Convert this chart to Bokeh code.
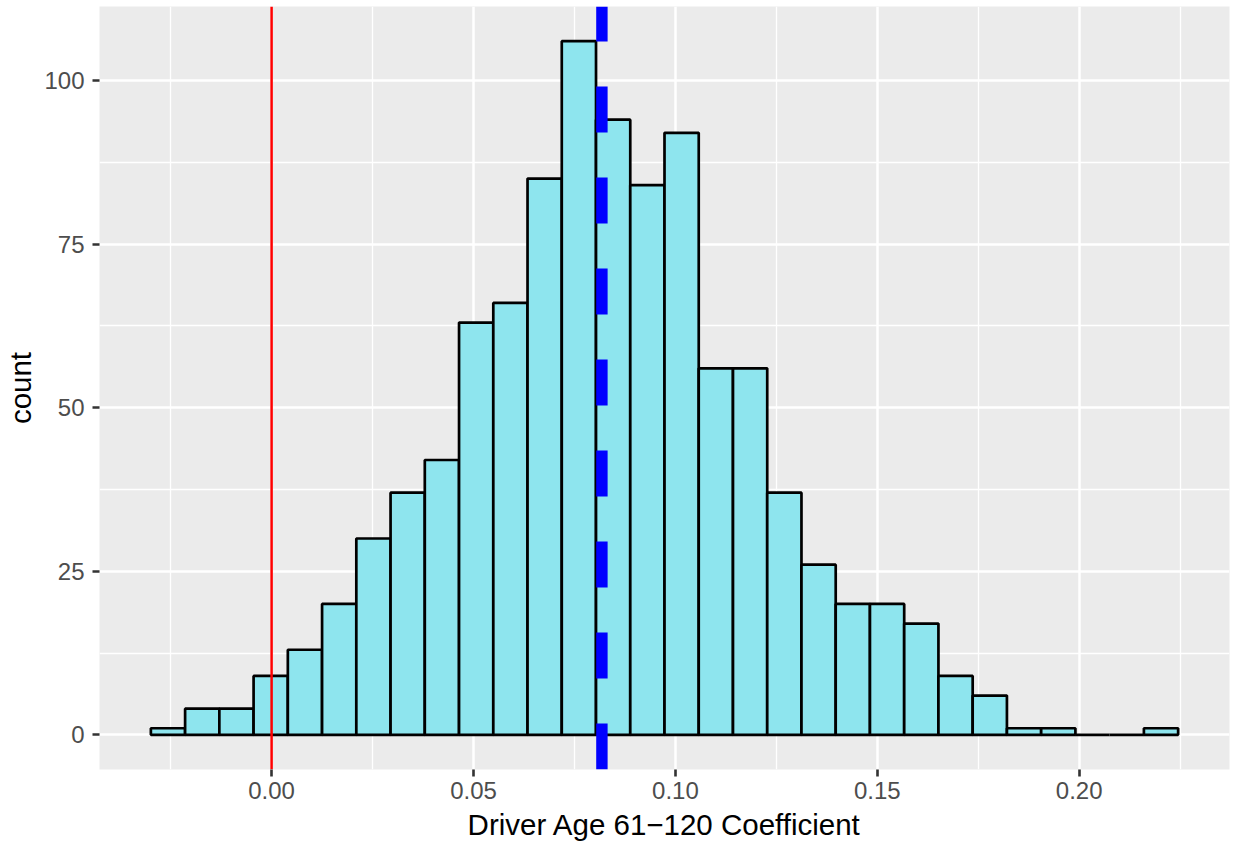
from bokeh.plotting import figure
from bokeh.models import Range1d, FixedTicker, ColumnDataSource
from bokeh.embed import file_html
from bokeh.resources import INLINE

# Histogram of bootstrapped coefficients (30 equal-width bins)
bin_start = -0.0299
bin_width = 0.00848
counts = [1, 4, 4, 9, 13, 20, 30, 37, 42, 63, 66, 85, 106, 94, 84,
          92, 56, 56, 37, 26, 20, 20, 17, 9, 6, 1, 1, 0, 0, 1]

# Reference lines
zero_ref = 0.0
mean_coef = 0.0818

# Axis ticks
x_ticks = [0.00, 0.05, 0.10, 0.15, 0.20]
x_tick_labels = ["0.00", "0.05", "0.10", "0.15", "0.20"]
y_ticks = [0, 25, 50, 75, 100]
y_tick_labels = ["0", "25", "50", "75", "100"]

x_title = "Driver Age 61\u2212120 Coefficient"
y_title = "count"

lefts = [bin_start + i * bin_width for i in range(len(counts))]
rights = [l + bin_width for l in lefts]
src = ColumnDataSource(dict(left=lefts, right=rights, top=counts,
                            bottom=[0] * len(counts)))

# ggplot-like 5% padding on both axes
span_x = rights[-1] - lefts[0]
x_lo, x_hi = lefts[0] - 0.05 * span_x, rights[-1] + 0.05 * span_x
y_max = max(counts)
y_lo, y_hi = -0.05 * y_max, y_max * 1.05

p = figure(width=1233, height=843, output_backend="svg", toolbar_location=None,
           x_range=Range1d(x_lo, x_hi), y_range=Range1d(y_lo, y_hi),
           min_border_left=99, min_border_right=4, min_border_top=6,
           min_border_bottom=72)

p.background_fill_color = "#EBEBEB"
p.border_fill_color = "white"
p.outline_line_color = None

x_minor = [t - 0.025 for t in x_ticks] + [x_ticks[-1] + 0.025]
y_minor = [t + 12.5 for t in y_ticks]
xt = FixedTicker(ticks=x_ticks, minor_ticks=x_minor)
yt = FixedTicker(ticks=y_ticks, minor_ticks=y_minor)
p.xaxis.ticker = xt
p.yaxis.ticker = yt
p.xgrid.ticker = xt
p.ygrid.ticker = yt
p.xaxis.major_label_overrides = dict(zip(x_ticks, x_tick_labels))
p.yaxis.major_label_overrides = dict(zip(y_ticks, y_tick_labels))

for g in (p.xgrid, p.ygrid):
    g.grid_line_color = "white"
    g.grid_line_width = 2.5
    g.minor_grid_line_color = "white"
    g.minor_grid_line_width = 1.3

for ax in (p.xaxis, p.yaxis):
    ax.axis_line_color = None
    ax.major_tick_line_color = "#333333"
    ax.major_tick_line_width = 2.6
    ax.major_tick_out = 7
    ax.major_tick_in = 0
    ax.minor_tick_line_color = None
    ax.major_label_text_font = "Liberation Sans"
    ax.major_label_text_font_size = "24px"
    ax.major_label_text_color = "#4D4D4D"
    ax.axis_label_text_font = "Liberation Sans"
    ax.axis_label_text_font_size = "29.5px"
    ax.axis_label_text_font_style = "normal"
    ax.axis_label_text_color = "black"

p.xaxis.axis_label = x_title
p.yaxis.axis_label = y_title
p.xaxis.major_label_standoff = 5
p.yaxis.major_label_standoff = 8
p.xaxis.axis_label_standoff = 6
p.yaxis.axis_label_standoff = 4

p.quad(left="left", right="right", top="top", bottom="bottom", source=src,
       fill_color="#8EE5EE", line_color="black", line_width=2.7)

p.segment(x0=[zero_ref], y0=[y_lo], x1=[zero_ref], y1=[y_hi],
          line_color="#FF0000", line_width=2.5)
p.segment(x0=[mean_coef], y0=[y_lo], x1=[mean_coef], y1=[y_hi],
          line_color="#0000FF", line_width=11.4, line_dash="46 45",
          line_cap="butt")

open("out.html", "w").write(file_html(p, INLINE))
